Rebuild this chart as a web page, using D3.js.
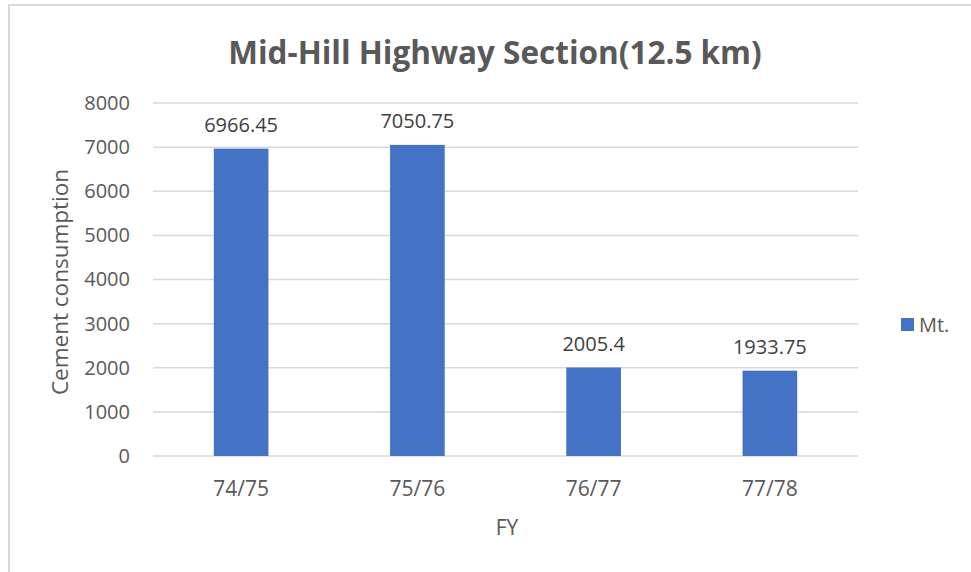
<!DOCTYPE html>
<html>
<head>
<meta charset="utf-8">
<script src="https://cdn.jsdelivr.net/npm/d3@7"></script>
<style>
  body { margin: 0; background: #fff; }
  svg { display: block; }
</style>
</head>
<body>
<svg id="chart" width="971" height="572"></svg>
<script>
// chart data
var years = ["74/75", "75/76", "76/77", "77/78"];
var cement = [6966.45, 7050.75, 2005.4, 1933.75];
var yTicks = [0, 1000, 2000, 3000, 4000, 5000, 6000, 7000, 8000];
var seriesName = "Mt.";

var font = "'Open Sans', 'Noto Sans', sans-serif";
var svg = d3.select("#chart");

// chart frame
svg.append("rect")
    .attr("x", 9)
    .attr("y", 5)
    .attr("width", 1000)
    .attr("height", 620)
    .attr("fill", "#fff")
    .attr("stroke", "#d9d9d9")
    .attr("stroke-width", 2);

var margin = {left: 153, right: 858, top: 103, bottom: 456};

var x = d3.scaleBand()
    .domain(years)
    .range([margin.left, margin.right])
    .paddingInner(0.69)
    .paddingOuter(0.345);

var y = d3.scaleLinear()
    .domain([0, 8000])
    .range([margin.bottom, margin.top]);

// gridlines
svg.append("g")
    .selectAll("line")
    .data(yTicks)
    .enter()
    .append("line")
    .attr("x1", margin.left)
    .attr("x2", margin.right)
    .attr("y1", function(d) { return y(d); })
    .attr("y2", function(d) { return y(d); })
    .attr("stroke", "#d9d9d9")
    .attr("stroke-width", 1.5);

// y axis labels
var yAxis = svg.append("g")
    .attr("transform", "translate(" + (margin.left - 23) + ",0)")
    .call(d3.axisLeft(y).tickValues(yTicks).tickFormat(d3.format("d")).tickSize(0).tickPadding(0));
yAxis.select(".domain").remove();
yAxis.selectAll("text")
    .attr("font-family", font)
    .attr("font-size", 20)
    .attr("fill", "#595959");

// bars
svg.append("g")
    .selectAll("rect")
    .data(cement)
    .enter()
    .append("rect")
    .attr("x", function(d, i) { return x(years[i]); })
    .attr("y", function(d) { return y(d); })
    .attr("width", x.bandwidth())
    .attr("height", function(d) { return y(0) - y(d); })
    .attr("fill", "#4472c4");

// value labels
svg.append("g")
    .selectAll("text")
    .data(cement)
    .enter()
    .append("text")
    .attr("x", function(d, i) { return x(years[i]) + x.bandwidth() / 2; })
    .attr("y", function(d) { return y(d) - 17; })
    .attr("text-anchor", "middle")
    .attr("font-family", font)
    .attr("font-size", 20)
    .attr("fill", "#404040")
    .text(function(d) { return d; });

// x axis labels
var xAxis = svg.append("g")
    .attr("transform", "translate(0," + (margin.bottom + 25) + ")")
    .call(d3.axisBottom(x).tickSize(0).tickPadding(0));
xAxis.select(".domain").remove();
xAxis.selectAll("text")
    .attr("font-family", font)
    .attr("font-size", 21)
    .attr("fill", "#595959");

// title
svg.append("text")
    .attr("x", 495)
    .attr("y", 64)
    .attr("text-anchor", "middle")
    .attr("font-family", font)
    .attr("font-weight", "bold")
    .attr("font-size", 31.5)
    .attr("fill", "#595959")
    .text("Mid-Hill Highway Section(12.5 km)");

// axis titles
svg.append("text")
    .attr("x", 507)
    .attr("y", 535)
    .attr("text-anchor", "middle")
    .attr("font-family", font)
    .attr("font-size", 21)
    .attr("fill", "#595959")
    .text("FY");

svg.append("text")
    .attr("transform", "translate(68,282) rotate(-90)")
    .attr("text-anchor", "middle")
    .attr("font-family", font)
    .attr("font-size", 22.5)
    .attr("fill", "#595959")
    .text("Cement consumption");

// legend
svg.append("rect")
    .attr("x", 901)
    .attr("y", 318)
    .attr("width", 13)
    .attr("height", 13)
    .attr("fill", "#4472c4");
svg.append("text")
    .attr("x", 919)
    .attr("y", 332)
    .attr("font-family", font)
    .attr("font-size", 20)
    .attr("fill", "#595959")
    .text(seriesName);
</script>
</body>
</html>
